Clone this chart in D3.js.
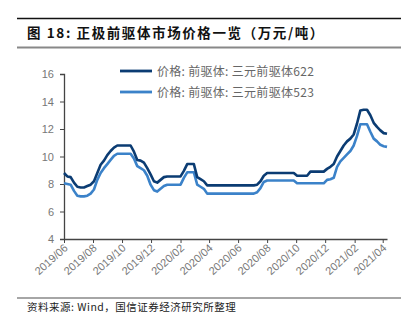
<!DOCTYPE html>
<html>
<head>
<meta charset="utf-8">
<script src="https://cdn.jsdelivr.net/npm/d3@7"></script>
<style>
  html, body { margin: 0; padding: 0; background: #fff; }
  svg { display: block; }
</style>
</head>
<body>
<svg id="chart" width="417" height="322"></svg>
<script>
// Weekly price series (万元/吨), one value per week starting 2019-06-01
const startDate = new Date(2019, 5, 1);
const endDate = new Date(2021, 3, 11);
const weeks = d3.timeDay.range(startDate, endDate, 7);

const price622 = [
  8.8, 8.55, 8.5, 8.1, 7.8, 7.75, 7.75, 7.85, 7.95, 8.2,
  8.8, 9.4, 9.7, 10.1, 10.4, 10.65, 10.8, 10.8, 10.8, 10.8,
  10.8, 10.35, 9.75, 9.7, 9.55, 9.15, 8.7, 8.2, 8.1, 8.3,
  8.5, 8.55, 8.55, 8.55, 8.55, 8.55, 8.95, 9.45, 9.45, 9.45,
  8.5, 8.35, 8.2, 7.9, 7.9, 7.9, 7.9, 7.9, 7.9, 7.9,
  7.9, 7.9, 7.9, 7.9, 7.9, 7.9, 7.9, 7.9, 7.95, 8.2,
  8.6, 8.8, 8.8, 8.8, 8.8, 8.8, 8.8, 8.8, 8.8, 8.8,
  8.6, 8.6, 8.6, 8.6, 8.9, 8.9, 8.9, 8.9, 8.9, 9.1,
  9.25, 9.45, 10.0, 10.4, 10.8, 11.1, 11.3, 11.6, 12.4, 13.35,
  13.4, 13.4, 13.0, 12.45, 12.15, 11.9, 11.7, 11.65
];

const price523 = [
  8.05, 8.0, 7.95, 7.5, 7.15, 7.1, 7.1, 7.15, 7.3, 7.6,
  8.3, 8.8, 9.15, 9.45, 9.75, 10.05, 10.2, 10.2, 10.2, 10.2,
  10.2, 9.85, 9.3, 9.15, 9.0, 8.6, 7.95, 7.55, 7.45, 7.65,
  7.85, 7.95, 7.95, 7.95, 7.95, 7.95, 8.45, 8.85, 8.85, 8.85,
  7.95, 7.8, 7.65, 7.3, 7.3, 7.3, 7.3, 7.3, 7.3, 7.3,
  7.3, 7.3, 7.3, 7.3, 7.3, 7.3, 7.3, 7.3, 7.4, 7.7,
  8.15, 8.25, 8.25, 8.25, 8.25, 8.25, 8.25, 8.25, 8.25, 8.25,
  8.05, 8.05, 8.05, 8.05, 8.05, 8.05, 8.05, 8.05, 8.05, 8.3,
  8.35, 8.45, 9.25, 9.65, 9.9, 10.15, 10.4, 10.8, 11.5, 12.35,
  12.35, 12.35, 11.8, 11.3, 11.1, 10.85, 10.75, 10.7
];

const seriesNames = ["价格: 前驱体: 三元前驱体622", "价格: 前驱体: 三元前驱体523"];
const seriesColors = ["#0b3c73", "#3b82c9"];
const yTicks = [4, 6, 8, 10, 12, 14, 16];
const xTickDates = [
  "2019-06-01", "2019-08-01", "2019-10-01", "2019-12-01", "2020-02-01", "2020-04-01",
  "2020-06-01", "2020-08-01", "2020-10-01", "2020-12-01", "2021-02-01", "2021-04-01"
];
const titleText = "图 18:  正极前驱体市场价格一览（万元/吨）";
const sourceText = "资料来源: Wind，国信证券经济研究所整理";

const svg = d3.select("#chart");
const margin = { left: 64, right: 30, top: 74, bottom: 83 };
const W = 417, H = 322;

// Header rules and title
svg.append("line").attr("x1", 17).attr("x2", 401).attr("y1", 18.5).attr("y2", 18.5)
  .attr("stroke", "#111").attr("stroke-width", 1.4);
svg.append("text").attr("x", 27).attr("y", 38)
  .attr("font-family", "'Noto Sans CJK SC', sans-serif").attr("font-weight", "bold")
  .attr("font-size", 13.5).attr("letter-spacing", 1.6).attr("fill", "#111").text(titleText);
svg.append("line").attr("x1", 17).attr("x2", 401).attr("y1", 47.5).attr("y2", 47.5)
  .attr("stroke", "#888").attr("stroke-width", 1.8);

// Footer
svg.append("line").attr("x1", 17).attr("x2", 401).attr("y1", 298).attr("y2", 298)
  .attr("stroke", "#888").attr("stroke-width", 1.4);
svg.append("text").attr("x", 27).attr("y", 311)
  .attr("font-family", "'Noto Sans CJK SC', sans-serif")
  .attr("font-size", 10.5).attr("letter-spacing", 0.5).attr("fill", "#222").text(sourceText);

const x = d3.scaleTime()
  .domain([weeks[0], weeks[weeks.length - 1]])
  .range([margin.left, W - margin.right]);
const y = d3.scaleLinear().domain([4, 16]).range([H - margin.bottom, margin.top]);

// Y axis
const yAxis = svg.append("g").attr("transform", `translate(${margin.left},0)`)
  .call(d3.axisLeft(y).tickValues(yTicks).tickSize(4).tickPadding(6).tickFormat(d3.format("d")));
yAxis.select(".domain").attr("stroke", "#444").attr("stroke-width", 1.3);
yAxis.selectAll(".tick line").attr("stroke", "#444");
yAxis.selectAll("text").attr("font-family", "'Liberation Sans', Arial, sans-serif")
  .attr("font-size", 11).attr("fill", "#777");

// X axis
const parse = d3.timeParse("%Y-%m-%d");
const xAxis = svg.append("g").attr("transform", `translate(0,${H - margin.bottom})`)
  .call(d3.axisBottom(x).tickValues(xTickDates.map(parse)).tickSize(4)
    .tickFormat(d3.timeFormat("%Y/%m")).tickSizeOuter(0));
xAxis.select(".domain").attr("stroke", "#444").attr("stroke-width", 1.3);
xAxis.selectAll(".tick line").attr("stroke", "#444");
xAxis.selectAll("text")
  .attr("font-family", "'Liberation Sans', Arial, sans-serif")
  .attr("font-size", 11).attr("fill", "#777")
  .attr("text-anchor", "end")
  .attr("dy", null).attr("y", 0)
  .attr("transform", "translate(4,10) rotate(-42)");

// Lines: 523 drawn first so 622 sits on top
const line = d3.line().x((d, i) => x(weeks[i])).y(d => y(d));
[[price523, seriesColors[1]], [price622, seriesColors[0]]].forEach(([s, c]) => {
  svg.append("path").datum(s)
    .attr("fill", "none").attr("stroke", c)
    .attr("stroke-width", 2.6).attr("stroke-linejoin", "round")
    .attr("d", line);
});

// Legend
seriesNames.forEach((name, i) => {
  const ly = 71 + i * 21;
  svg.append("line").attr("x1", 120).attr("x2", 152).attr("y1", ly).attr("y2", ly)
    .attr("stroke", seriesColors[i]).attr("stroke-width", 2.8);
  svg.append("text").attr("x", 157).attr("y", ly + 4.5)
    .attr("font-family", "'Noto Sans CJK SC', sans-serif")
    .attr("font-size", 12).attr("letter-spacing", 0.3).attr("fill", "#666").text(name);
});
</script>
</body>
</html>
